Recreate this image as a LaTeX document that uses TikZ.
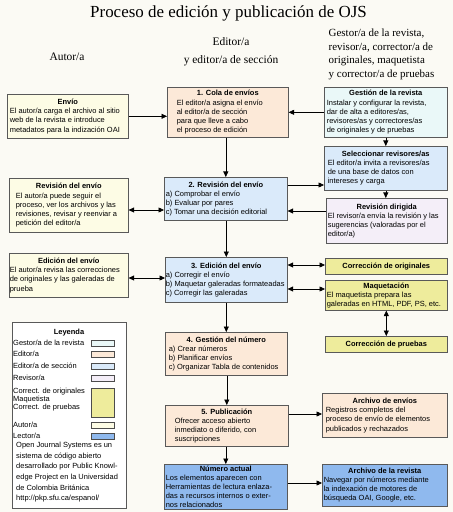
\documentclass[tikz,border=0pt]{standalone}
\usepackage{fontspec}
\setmainfont{Liberation Sans}
\newfontfamily\seriffam{Liberation Serif}
\usetikzlibrary{arrows.meta}
\definecolor{bg}{RGB}{251,250,244}
\definecolor{peach}{RGB}{252,233,216}
\definecolor{secblue}{RGB}{218,234,250}
\definecolor{gestor}{RGB}{234,248,248}
\definecolor{revisor}{RGB}{244,238,248}
\definecolor{yell}{RGB}{238,236,156}
\definecolor{autor}{RGB}{253,252,229}
\definecolor{lector}{RGB}{143,185,238}
\newcommand\bxfont{\fontsize{7.5}{9.2}\selectfont}
% #1 width, #2 left indent, #3 title, #4 body
\newcommand\BX[4]{\begin{minipage}{#1bp}\raggedright{\centering\textbf{#3}\par}\leftskip=#2bp\relax #4\end{minipage}}
\begin{document}
\begin{tikzpicture}[x=1bp,y=-1bp,
 box/.style={draw=black!65, line width=0.6bp, anchor=north west, inner xsep=1.5bp, inner ysep=0.5bp, font=\bxfont},
 arr/.style={line width=0.6bp, -{Triangle[length=5.5bp,width=5bp]}},
 darr/.style={line width=0.6bp, {Triangle[length=5.5bp,width=5bp]}-{Triangle[length=5.5bp,width=5bp]}},
 sw/.style={draw=black!70, line width=0.5bp},
 hdr/.style={font=\seriffam\fontsize{11.5}{14}\selectfont, inner sep=0pt},
 lg/.style={font=\bxfont, inner sep=0pt, anchor=west}
]
\fill[bg] (0,0) rectangle (453,512);
\useasboundingbox (0,0) rectangle (453,512);

% title and headers
\node[font=\seriffam\fontsize{17}{20}\selectfont, inner sep=0pt] (title) at (228.5,13) {Proceso de edición y publicación de OJS};
\node[hdr] (hA) at (67,57) {Autor/a};
\node[hdr, align=center, font=\seriffam\fontsize{11.5}{18}\selectfont] (hE) at (231,52) {Editor/a\\y editor/a de sección};
\node[hdr, align=left, anchor=north west, font=\seriffam\fontsize{11}{13.6}\selectfont] (hR) at (328.5,29) {Gestor/a de la revista,\\revisor/a, corrector/a de\\originales, maquetista\\y corrector/a de pruebas};

% author column
\node[box, fill=autor, minimum height=44bp] (envio) at (7,94)
 {\BX{118}{1}{Envío}{El autor/a carga el archivo al sitio\\web de la revista e introduce\\metadatos para la indización OAI}};
\node[box, fill=autor, minimum height=54bp] (revA) at (9,178)
 {\BX{116}{5}{Revisión del envío}{El autor/a puede seguir el\\proceso, ver los archivos y las\\revisiones, revisar y reenviar a\\petición del editor/a}};
\node[box, fill=autor, minimum height=44bp, inner xsep=0.5bp] (edA) at (9,253)
 {\BX{118}{0}{Edición del envío}{El autor/a revisa las correcciones\\de originales y las galeradas de\\prueba}};

% editor column
\node[box, fill=peach, minimum height=50bp] (cola) at (167,87)
 {\BX{118}{8}{1. Cola de envíos}{El editor/a asigna el envío\\al editor/a de sección\\para que lleve a cabo\\el proceso de edición}};
\node[box, fill=secblue, minimum height=43bp] (rev2) at (164,177)
 {\BX{120}{0}{2. Revisión del envío}{a) Comprobar el envío\\b) Evaluar por pares\\c) Tomar una decisión editorial}};
\node[box, fill=secblue, minimum height=45bp, inner xsep=0.5bp] (ed3) at (165,257)
 {\BX{121}{0}{3. Edición del envío}{a) Corregir el envío\\b) Maquetar galeradas formateadas\\c) Corregir las galeradas}};
\node[box, fill=peach, minimum height=43bp] (gest4) at (165,332)
 {\BX{119}{2}{4. Gestión del número}{a) Crear números\\b) Planificar envíos\\c) Organizar Tabla de contenidos}};
\node[box, fill=peach, minimum height=41bp] (pub5) at (165,405)
 {\BX{120}{8}{5. Publicación}{Ofrecer acceso abierto\\inmediato o diferido, con\\suscripciones}};
\node[box, fill=lector, minimum height=45bp] (numero) at (164,464)
 {\BX{120}{0}{Número actual}{Los elementos aparecen con\\Herramientas de lectura enlaza-\\das a recursos internos o exter-\\nos relacionados}};

% right column
\node[box, fill=gestor, minimum height=50bp] (gestion) at (324,87)
 {\BX{120}{1}{Gestión de la revista}{Instalar y configurar la revista,\\dar de alta a editores/as,\\revisores/as y correctores/as\\de originales y de pruebas}};
\node[box, fill=secblue, minimum height=44bp] (selec) at (324,146)
 {\BX{120}{2}{Seleccionar revisores/as}{El editor/a invita a revisores/as\\de una base de datos con\\intereses y carga}};
\node[box, fill=revisor, minimum height=45bp] (revdir) at (326,198)
 {\BX{118}{0}{Revisión dirigida}{El revisor/a envía la revisión y las\\sugerencias (valoradas por el\\editor/a)}};
\node[box, fill=yell, minimum height=16bp] (corrorig) at (325,258)
 {\BX{119}{0}{Corrección de originales}{}};
\node[box, fill=yell, minimum height=30bp] (maquet) at (325,280)
 {\BX{119}{0}{Maquetación}{El maquetista prepara las\\galeradas en HTML, PDF, PS, etc.}};
\node[box, fill=yell, minimum height=16bp] (corrpru) at (325,336)
 {\BX{119}{0}{Corrección de pruebas}{}};
\node[box, fill=peach, minimum height=44bp] (archenv) at (322,393)
 {\BX{122}{2}{Archivo de envíos}{Registros completos del\\proceso de envío de elementos\\publicados y rechazados}};
\node[box, fill=lector, minimum height=42bp] (archrev) at (322,464)
 {\BX{122}{0}{Archivo de la revista}{Navegar por números mediante\\la indexación de motores de\\búsqueda OAI, Google, etc.}};

% legend
\node[draw=black!65, line width=0.6bp, fill=white, anchor=north west, minimum width=114bp, minimum height=186bp, inner sep=0pt] (legend) at (12,322) {};
\node[font=\bxfont\bfseries, inner sep=0pt] (lgt) at (69,333) {Leyenda};
\node[lg] (lg1) at (13,343) {Gestor/a de la revista};
\node[lg] (lg2) at (13,354) {Editor/a};
\node[lg] (lg3) at (13,366) {Editor/a de sección};
\node[lg] (lg4) at (13,378) {Revisor/a};
\node[lg, anchor=north west, align=left, font=\fontsize{7.5}{8}\selectfont] (lg5) at (13,388) {Correct. de originales\\Maquetista\\Correct. de pruebas};
\node[lg] (lg6) at (13,425) {Autor/a};
\node[lg] (lg7) at (13,436) {Lector/a};
\draw[sw, fill=gestor] (91,340) rectangle (114,346);
\draw[sw, fill=peach] (91,351) rectangle (114,357);
\draw[sw, fill=secblue] (91,363) rectangle (114,369);
\draw[sw, fill=revisor] (91,375) rectangle (114,381);
\draw[sw, fill=yell] (91,388) rectangle (114,417);
\draw[sw, fill=autor] (91,422) rectangle (114,428);
\draw[sw, fill=lector] (91,433) rectangle (114,439);
\node[lg, anchor=north west, align=left, font=\fontsize{7.5}{10.7}\selectfont] (lgp) at (16,442)
 {Open Journal Systems es un\\sistema de código abierto\\desarrollado por Public Knowl-\\edge Project en la Universidad\\de Colombia Británica\\http://pkp.sfu.ca/espanol/};

% connectors
\draw[arr] (envio.east) -- (envio.east -| cola.west);
\draw[arr] (gestion.west) -- (gestion.west -| cola.east);
\draw[arr] (cola.south -| rev2.north) -- (rev2.north);
\draw[arr] (gestion.south) -- (gestion.south |- selec.north);
\draw[arr] (selec.south) -- (selec.south |- revdir.north);
\draw[darr] (revA.east |- 0,210) -- (rev2.west |- 0,210);
\draw[arr] (rev2.east |- 0,185) -- (selec.west |- 0,185);
\draw[arr] (revdir.west |- 0,211) -- (rev2.east |- 0,211);
\draw[arr] (rev2.south -| ed3.north) -- (ed3.north);
\draw[darr] (edA.east |- 0,278) -- (ed3.west |- 0,278);
\draw[darr] (ed3.east |- 0,265) -- (corrorig.west |- 0,265);
\draw[darr] (ed3.east |- 0,289) -- (maquet.west |- 0,289);
\draw[darr] (maquet.south) -- (maquet.south |- corrpru.north);
\draw[arr] (ed3.south -| gest4.north) -- (gest4.north);
\draw[arr] (gest4.south -| pub5.north) -- (pub5.north);
\draw[arr] (pub5.south -| numero.north) -- (numero.north);
\draw[arr] (pub5.east |- 0,414) -- (archenv.west |- 0,414);
\draw[arr] (numero.east |- 0,483) -- (archrev.west |- 0,483);
\end{tikzpicture}
\end{document}
